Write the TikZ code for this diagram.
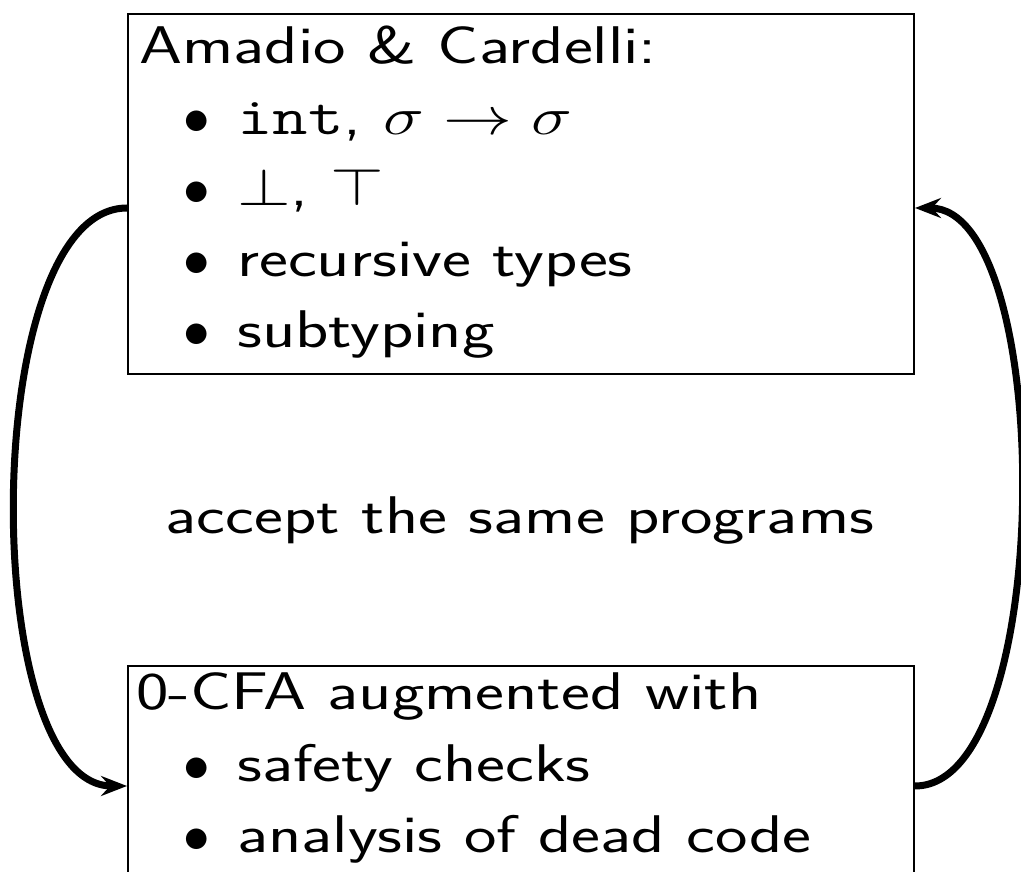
\RequirePackage{fix-cm}
\documentclass[tikz,border=0pt]{standalone}
\usetikzlibrary{arrows.meta}

% wide slide-style sans text: Latin Modern Sans stretched horizontally
\newcommand\bodyfont{\fontsize{53}{64}\selectfont\sffamily}
\newcommand\wide[1]{\scalebox{1.3}[1]{#1}}
\newcommand\itm[1]{\makebox[54pt][l]{$\bullet$}\wide{#1}}

\tikzset{
  frame/.style={draw, line width=2pt, inner sep=0pt, anchor=north west},
  linetext/.style={anchor=base west, inner sep=0pt, font=\bodyfont},
  flow/.style={line width=7pt, -{Stealth[length=26pt,width=20pt,inset=9pt]}}
}

\begin{document}
\begin{tikzpicture}[x=1pt,y=1pt]
\useasboundingbox (0,0) rectangle (1021,871);

% the two boxes
\node[frame, minimum width=786pt, minimum height=360pt] (top) at (127,858) {};
\node[frame, minimum width=786pt, minimum height=260pt] (bot) at (127,206) {};

% upper box text
\node[linetext] (t0) at (139,807) {\wide{Amadio \& Cardelli:}};
\node[linetext] (t1) at (183,736) {\itm{\texttt{int}, $\sigma\to\sigma$}};
\node[linetext] (t2) at (183,665) {\itm{$\bot$, $\top$}};
\node[linetext] (t3) at (183,594) {\itm{recursive types}};
\node[linetext] (t4) at (183,523) {\itm{subtyping}};

% middle text
\node[linetext, anchor=base] (mid) at (520,337) {\wide{accept the same programs}};

% lower box text
\node[linetext] (b0) at (136,161) {\wide{0-CFA augmented with}};
\node[linetext] (b1) at (183,89) {\itm{safety checks}};
\node[linetext] (b2) at (183,19) {\itm{analysis of dead code}};

% connectors between the boxes
\coordinate (topL) at ([yshift=-14pt]top.west);
\coordinate (topR) at ([yshift=-14pt]top.east);
\coordinate (botL) at ([yshift=10pt]bot.west);
\coordinate (botR) at ([yshift=10pt]bot.east);

\draw[flow] (topL) .. controls +(-149,0) and +(-149,0) .. (botL);
\draw[flow] (botR) .. controls +(141,0) and +(141,0) .. (topR);
\end{tikzpicture}
\end{document}
